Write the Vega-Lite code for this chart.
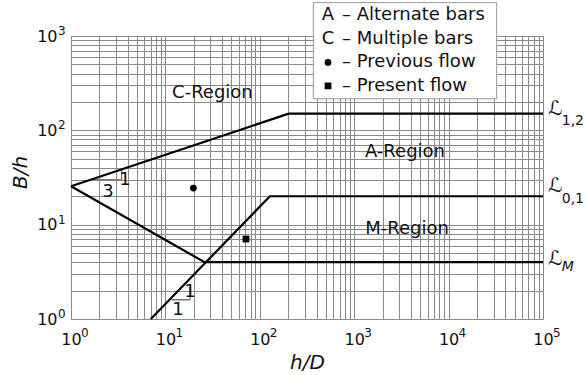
{
  "$schema": "https://vega.github.io/schema/vega-lite/v6.json",
  "width": 472,
  "height": 283,
  "autosize": {"type": "none"},
  "padding": {"left": 71, "top": 36, "right": 43, "bottom": 56},
  "background": "white",
  "config": {
    "font": "DejaVu Sans",
    "view": {"stroke": "#8a8a8a", "strokeWidth": 1},
    "axis": {
      "ticks": false,
      "domain": false,
      "grid": true,
      "gridColor": "#8a8a8a",
      "gridWidth": 1,
      "gridOpacity": 1,
      "labelFont": "DejaVu Sans",
      "labelFontSize": 16,
      "labelColor": "#111",
      "labelOverlap": false,
      "labelFlush": false,
      "labelBound": false,
      "titleFont": "DejaVu Sans",
      "titleFontSize": 20,
      "titleFontStyle": "italic",
      "titleFontWeight": "normal",
      "titleColor": "#111"
    }
  },
  "encoding": {
    "x": {
      "field": "x",
      "type": "quantitative",
      "scale": {"type": "log", "domain": [1, 100000], "nice": false, "zero": false},
      "axis": {
        "title": "h/D",
        "titleBaseline": "middle",
        "titleY": 43,
        "labelPadding": 12,
        "values": [1,2,3,4,5,6,7,8,9,10,20,30,40,50,60,70,80,90,100,200,300,400,500,600,700,800,900,1000,2000,3000,4000,5000,6000,7000,8000,9000,10000,20000,30000,40000,50000,60000,70000,80000,90000,100000],
        "labelExpr": "abs(log(datum.value)/LN10 - round(log(datum.value)/LN10)) < 0.000001 ? '10' : ''"
      }
    },
    "y": {
      "field": "y",
      "type": "quantitative",
      "scale": {"type": "log", "domain": [1, 1000], "nice": false, "zero": false},
      "axis": {
        "title": "B/h",
        "titleX": -51,
        "titleY": 136,
        "titleAngle": -90,
        "titleAlign": "center",
        "titleBaseline": "middle",
        "labelPadding": 14,
        "values": [1,2,3,4,5,6,7,8,9,10,20,30,40,50,60,70,80,90,100,200,300,400,500,600,700,800,900,1000],
        "labelExpr": "abs(log(datum.value)/LN10 - round(log(datum.value)/LN10)) < 0.000001 ? '10' : ''"
      }
    }
  },
  "layer": [
    {
      "data": {"values": [
        {"s": "t1", "i": 0, "x": 1.63, "y": 30},
        {"s": "t1", "i": 1, "x": 3.44, "y": 30},
        {"s": "t1", "i": 2, "x": 3.44, "y": 38.5},
        {"s": "t2", "i": 0, "x": 11.5, "y": 1.6},
        {"s": "t2", "i": 1, "x": 18.2, "y": 1.6},
        {"s": "t2", "i": 2, "x": 18.2, "y": 2.2}
      ]},
      "mark": {"type": "line", "color": "#777", "strokeWidth": 1.3},
      "encoding": {"detail": {"field": "s"}, "order": {"field": "i"}}
    },
    {
      "data": {"values": [
        {"s": "L12", "i": 0, "x": 1, "y": 25.5},
        {"s": "L12", "i": 1, "x": 202, "y": 150},
        {"s": "L12", "i": 2, "x": 100000, "y": 150},
        {"s": "LM", "i": 0, "x": 1, "y": 25.5},
        {"s": "LM", "i": 1, "x": 26, "y": 4},
        {"s": "LM", "i": 2, "x": 100000, "y": 4},
        {"s": "L01", "i": 0, "x": 7, "y": 1},
        {"s": "L01", "i": 1, "x": 128, "y": 20},
        {"s": "L01", "i": 2, "x": 100000, "y": 20}
      ]},
      "mark": {"type": "line", "color": "#000", "strokeWidth": 2.2},
      "encoding": {"detail": {"field": "s"}, "order": {"field": "i"}}
    },
    {
      "data": {"values": [
        {"x": 369, "x2": 32300, "y": 2259, "y2": 216}
      ]},
      "mark": {"type": "rect", "fill": "white", "stroke": "#999", "strokeWidth": 1},
      "encoding": {"x2": {"field": "x2"}, "y2": {"field": "y2"}}
    },
    {
      "data": {"values": [
        {"x": 19.8, "y": 24.4, "shape": "circle"},
        {"x": 71.4, "y": 7.04, "shape": "square"},
        {"x": 528, "y": 525, "shape": "circle"},
        {"x": 528, "y": 296, "shape": "square"}
      ]},
      "mark": {"type": "point", "filled": true, "color": "#000", "size": 46, "opacity": 1},
      "encoding": {
        "shape": {"field": "shape", "type": "nominal", "scale": {"domain": ["circle", "square"], "range": ["circle", "square"]}, "legend": null}
      }
    },
    {
      "data": {"values": [
        {"e": "0", "x": 1, "y": 1},
        {"e": "1", "x": 10, "y": 1},
        {"e": "2", "x": 100, "y": 1},
        {"e": "3", "x": 1000, "y": 1},
        {"e": "4", "x": 10000, "y": 1},
        {"e": "5", "x": 100000, "y": 1}
      ]},
      "mark": {"type": "text", "fontSize": 12, "align": "left", "baseline": "middle", "dx": 10, "dy": 14, "color": "#111"},
      "encoding": {"text": {"field": "e"}}
    },
    {
      "data": {"values": [
        {"e": "0", "x": 1, "y": 1},
        {"e": "1", "x": 1, "y": 10},
        {"e": "2", "x": 1, "y": 100},
        {"e": "3", "x": 1, "y": 1000}
      ]},
      "mark": {"type": "text", "fontSize": 12, "align": "left", "baseline": "middle", "dx": -13, "dy": -5, "color": "#111"},
      "encoding": {"text": {"field": "e"}}
    },
    {
      "data": {"values": [
        {"t": "A", "x": 528, "y": 1652},
        {"t": "C", "x": 528, "y": 931}
      ]},
      "mark": {"type": "text", "fontSize": 18, "align": "center", "baseline": "middle", "color": "#111"},
      "encoding": {"text": {"field": "t"}}
    },
    {
      "data": {"values": [
        {"t": "– Alternate bars", "x": 743, "y": 1652},
        {"t": "– Multiple bars", "x": 743, "y": 931},
        {"t": "– Previous flow", "x": 743, "y": 525},
        {"t": "– Present flow", "x": 743, "y": 296}
      ]},
      "mark": {"type": "text", "fontSize": 18, "align": "left", "baseline": "middle", "color": "#111"},
      "encoding": {"text": {"field": "t"}}
    },
    {
      "data": {"values": [
        {"t": "C-Region", "x": 31.5, "y": 250},
        {"t": "A-Region", "x": 3450, "y": 59},
        {"t": "M-Region", "x": 3630, "y": 9},
        {"t": "3", "x": 2.47, "y": 22.3},
        {"t": "1", "x": 3.73, "y": 29.9},
        {"t": "1", "x": 13.6, "y": 1.25},
        {"t": "1", "x": 18.2, "y": 1.92}
      ]},
      "mark": {"type": "text", "fontSize": 18, "align": "center", "baseline": "middle", "color": "#111"},
      "encoding": {"text": {"field": "t"}}
    },
    {
      "data": {"values": [
        {"t": "ℒ", "x": 113000, "y": 169},
        {"t": "ℒ", "x": 113000, "y": 25.5},
        {"t": "ℒ", "x": 113000, "y": 4.35}
      ]},
      "mark": {"type": "text", "fontSize": 20, "align": "left", "baseline": "middle", "color": "#111"},
      "encoding": {"text": {"field": "t"}}
    },
    {
      "data": {"values": [
        {"t": "1,2", "x": 158000, "y": 126},
        {"t": "0,1", "x": 158000, "y": 18.6}
      ]},
      "mark": {"type": "text", "fontSize": 14, "align": "left", "baseline": "middle", "color": "#111"},
      "encoding": {"text": {"field": "t"}}
    },
    {
      "data": {"values": [
        {"t": "M", "x": 158000, "y": 3.6}
      ]},
      "mark": {"type": "text", "fontSize": 14, "fontStyle": "italic", "align": "left", "baseline": "middle", "color": "#111"},
      "encoding": {"text": {"field": "t"}}
    }
  ]
}
